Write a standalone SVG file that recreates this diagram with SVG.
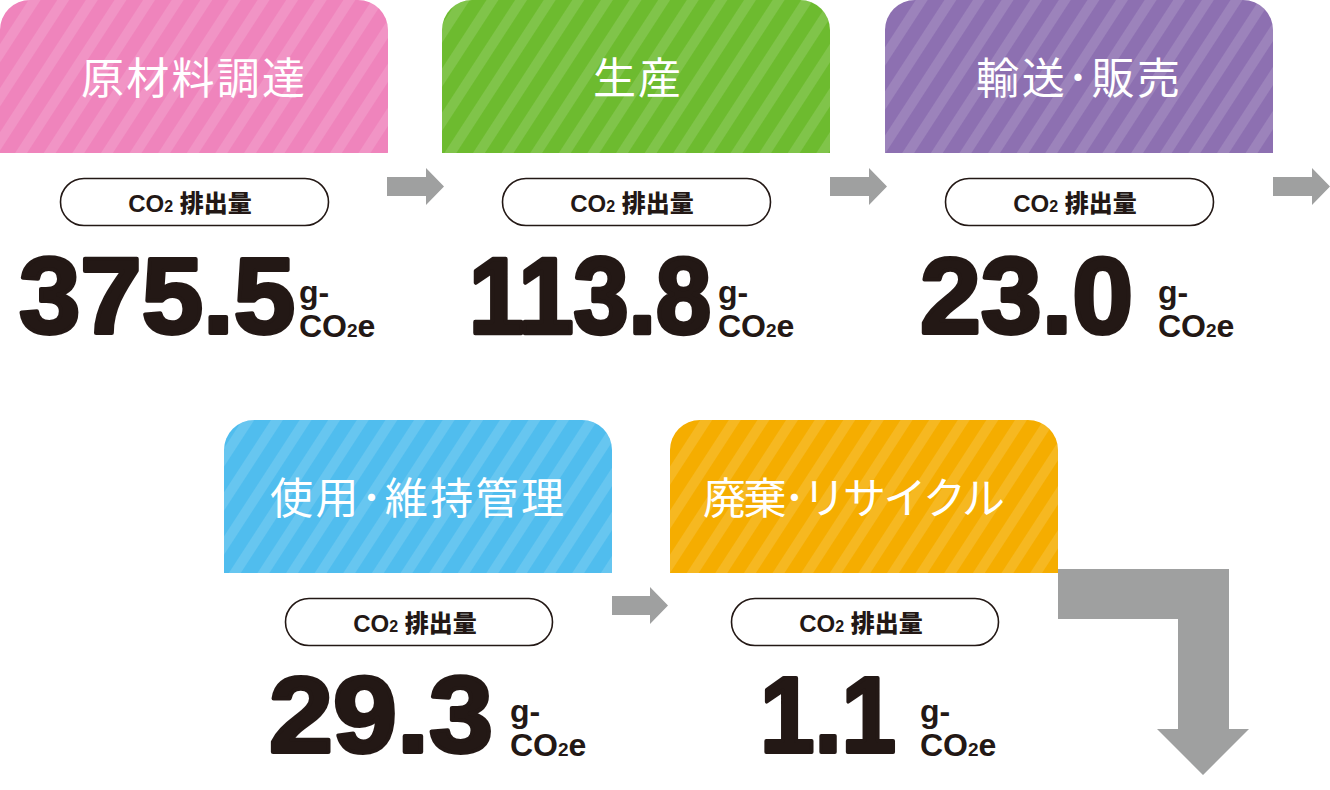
<svg xmlns="http://www.w3.org/2000/svg" width="1330" height="790" viewBox="0 0 1330 790">
<defs>
<pattern id="stripes" patternUnits="userSpaceOnUse" width="24" height="24" patternTransform="rotate(33)">
<rect x="0" y="0" width="10" height="24" fill="#ffffff" fill-opacity="0.13"/>
</pattern>
<style>
.hdr{font-family:"Noto Sans CJK JP","Noto Sans",sans-serif;font-size:43px;fill:#ffffff;}
.pill{fill:#ffffff;stroke:#231815;stroke-width:1.6;}
.pilltxt{font-family:"Liberation Sans","Noto Sans CJK JP",sans-serif;font-weight:bold;font-size:24px;fill:#231815;text-anchor:middle;}
.cjk{font-family:"Noto Sans CJK JP",sans-serif;font-weight:900;}
.num{font-family:"Liberation Sans",Arial,sans-serif;font-weight:bold;font-size:108px;fill:#231815;stroke:#231815;stroke-width:4;stroke-linejoin:round;}
.unit{font-family:"Liberation Sans",Arial,sans-serif;font-weight:bold;font-size:32px;fill:#231815;}
.arrow{fill:#9FA0A0;}
</style>
</defs>

<g id="connectors">
<polygon class="arrow" points="387,177 426,177 426,168 444,186.5 426,205 426,196 387,196"/>
<polygon class="arrow" points="830,177 869,177 869,168 887,186.5 869,205 869,196 830,196"/>
<polygon class="arrow" points="1273,177 1312,177 1312,168 1330,186.5 1312,205 1312,196 1273,196"/>
<polygon class="arrow" points="612,596 650,596 650,587 668,605.5 650,624 650,615 612,615"/>
<polygon class="arrow" points="1058,569 1229,569 1229,729 1249,729 1203,775 1157,729 1178,729 1178,619 1058,619"/>
</g>

<g id="node-raw-materials">
<path d="M0,153 V30 A30,30 0 0 1 30,0 H358 A30,30 0 0 1 388,30 V153 Z" fill="#EF84BC"/>
<path d="M0,153 V30 A30,30 0 0 1 30,0 H358 A30,30 0 0 1 388,30 V153 Z" fill="url(#stripes)"/>
<text class="hdr" x="81" y="94" textLength="224" lengthAdjust="spacing">原材料調達</text>
<rect class="pill" x="60.5" y="178.5" width="268" height="47" rx="23.5"/>
<text class="pilltxt" x="190" y="212">CO<tspan font-size="16">2</tspan> <tspan class="cjk">排出量</tspan></text>
<text class="num" x="19" y="333" textLength="276" lengthAdjust="spacingAndGlyphs">375.5</text>
<text class="unit" x="299" y="303">g-</text>
<text class="unit" x="299" y="337">CO<tspan font-size="19">2</tspan>e</text>
</g>

<g id="node-production">
<path d="M442,153 V30 A30,30 0 0 1 472,0 H800 A30,30 0 0 1 830,30 V153 Z" fill="#6DBB2F"/>
<path d="M442,153 V30 A30,30 0 0 1 472,0 H800 A30,30 0 0 1 830,30 V153 Z" fill="url(#stripes)"/>
<text class="hdr" x="593" y="94" textLength="88" lengthAdjust="spacing">生産</text>
<rect class="pill" x="502.5" y="178.5" width="268" height="47" rx="23.5"/>
<text class="pilltxt" x="632" y="212">CO<tspan font-size="16">2</tspan> <tspan class="cjk">排出量</tspan></text>
<text class="num" transform="translate(469,333) scale(1,1.1)" x="0" y="0" style="font-size:98px" textLength="242" lengthAdjust="spacingAndGlyphs">113.8</text>
<text class="unit" x="718" y="303">g-</text>
<text class="unit" x="718" y="337">CO<tspan font-size="19">2</tspan>e</text>
</g>

<g id="node-transport">
<path d="M885,153 V30 A30,30 0 0 1 915,0 H1243 A30,30 0 0 1 1273,30 V153 Z" fill="#8D70B1"/>
<path d="M885,153 V30 A30,30 0 0 1 915,0 H1243 A30,30 0 0 1 1273,30 V153 Z" fill="url(#stripes)"/>
<text class="hdr" x="976" y="94" textLength="204" lengthAdjust="spacing">輸送･販売</text>
<rect class="pill" x="945.5" y="178.5" width="268" height="47" rx="23.5"/>
<text class="pilltxt" x="1075" y="212">CO<tspan font-size="16">2</tspan> <tspan class="cjk">排出量</tspan></text>
<text class="num" x="920" y="333" textLength="213" lengthAdjust="spacingAndGlyphs">23.0</text>
<text class="unit" x="1158" y="303">g-</text>
<text class="unit" x="1158" y="337">CO<tspan font-size="19">2</tspan>e</text>
</g>

<g id="node-use">
<path d="M224,573 V450 A30,30 0 0 1 254,420 H582 A30,30 0 0 1 612,450 V573 Z" fill="#50BDEE"/>
<path d="M224,573 V450 A30,30 0 0 1 254,420 H582 A30,30 0 0 1 612,450 V573 Z" fill="url(#stripes)"/>
<text class="hdr" x="270" y="514" textLength="294" lengthAdjust="spacing">使用･維持管理</text>
<rect class="pill" x="285.5" y="598.5" width="267" height="47" rx="23.5"/>
<text class="pilltxt" x="415" y="632">CO<tspan font-size="16">2</tspan> <tspan class="cjk">排出量</tspan></text>
<text class="num" x="269" y="752" textLength="224" lengthAdjust="spacingAndGlyphs">29.3</text>
<text class="unit" x="510" y="722">g-</text>
<text class="unit" x="510" y="756">CO<tspan font-size="19">2</tspan>e</text>
</g>

<g id="node-disposal">
<path d="M670,573 V450 A30,30 0 0 1 700,420 H1028 A30,30 0 0 1 1058,450 V573 Z" fill="#F5AD00"/>
<path d="M670,573 V450 A30,30 0 0 1 700,420 H1028 A30,30 0 0 1 1058,450 V573 Z" fill="url(#stripes)"/>
<text class="hdr" x="703" y="514" textLength="302" lengthAdjust="spacing">廃棄･リサイクル</text>
<rect class="pill" x="731.5" y="598.5" width="267" height="47" rx="23.5"/>
<text class="pilltxt" x="861" y="632">CO<tspan font-size="16">2</tspan> <tspan class="cjk">排出量</tspan></text>
<text class="num" x="760" y="752" textLength="136" lengthAdjust="spacingAndGlyphs">1.1</text>
<text class="unit" x="920" y="722">g-</text>
<text class="unit" x="920" y="756">CO<tspan font-size="19">2</tspan>e</text>
</g>
</svg>
